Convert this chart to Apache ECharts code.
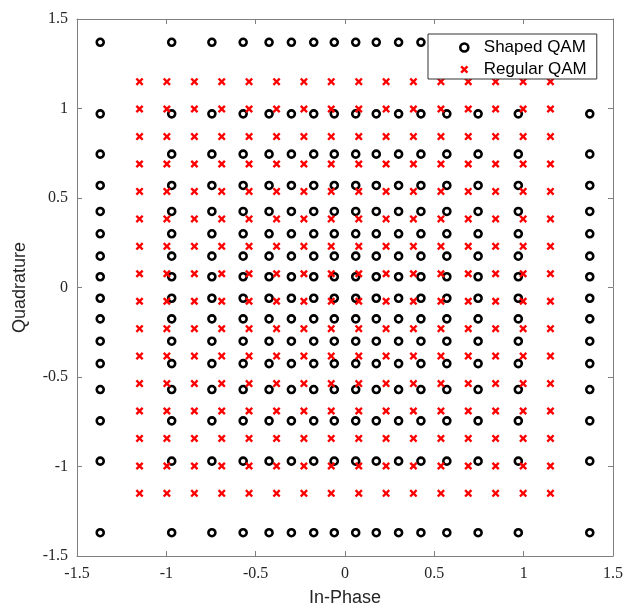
<!DOCTYPE html>
<html>
<head>
<meta charset="utf-8">
<script src="https://cdn.jsdelivr.net/npm/echarts@6/dist/echarts.min.js"></script>
<style>
  html, body { margin: 0; padding: 0; background: #fff; }
  #chart { width: 635px; height: 613px; }
</style>
</head>
<body>
<div id="chart"></div>
<script>
// Amplitude levels per axis (I and Q share the same set)
const shapedLevels = [-1.37, -0.97, -0.745, -0.57, -0.425, -0.30, -0.175, -0.06,
                       0.06, 0.175, 0.30, 0.425, 0.57, 0.745, 0.97, 1.37];
const regularLevels = [-1.15, -0.997, -0.843, -0.69, -0.537, -0.383, -0.23, -0.077,
                        0.077, 0.23, 0.383, 0.537, 0.69, 0.843, 0.997, 1.15];
const axisTicks = [-1.5, -1, -0.5, 0, 0.5, 1, 1.5];
const seriesNames = ['Shaped QAM', 'Regular QAM'];

// Constellation points: every I level paired with every Q level
function grid(levels) {
  const pts = [];
  for (const i of levels) for (const q of levels) pts.push([i, q]);
  return pts;
}

const crossPath = 'path://M0,2.1L2.1,0L5,2.9L7.9,0L10,2.1L7.1,5L10,7.9L7.9,10L5,7.1L2.1,10L0,7.9L2.9,5Z';
const ringStyle = { color: 'rgba(0,0,0,0)', borderColor: '#000', borderWidth: 2.6, opacity: 1 };
const axisColor = '#7f7f7f';
const labelColor = '#262626';
const serif = '"Liberation Serif", "DejaVu Serif", serif';
const sans = '"Liberation Sans", Arial, sans-serif';

const tickMin = axisTicks[0], tickMax = axisTicks[axisTicks.length - 1];

function baseAxis(extra) {
  return Object.assign({
    type: 'value',
    min: tickMin,
    max: tickMax,
    interval: 0.5,
    splitLine: { show: false },
    axisLine: { show: true, onZero: false, lineStyle: { color: axisColor, width: 1 } },
    axisTick: { show: true, inside: true, length: 5, lineStyle: { color: axisColor } },
    axisLabel: { show: true, color: labelColor, fontFamily: serif, fontSize: 16 }
  }, extra);
}

const chart = echarts.init(document.getElementById('chart'), null, { renderer: 'canvas' });
chart.setOption({
  animation: false,
  backgroundColor: '#fff',
  grid: { left: 77, right: 22, top: 19, bottom: 57, outerBoundsMode: 'none', containLabel: false },
  legend: {
    orient: 'vertical',
    left: 428,
    top: 34,
    padding: [5, 10, 1, 31],
    itemWidth: 29,
    itemHeight: 8,
    itemGap: 5,
    backgroundColor: '#fff',
    borderColor: '#333',
    borderWidth: 1,
    borderRadius: 0,
    textStyle: { fontFamily: sans, fontSize: 17, color: '#000' },
    data: [
      { name: seriesNames[0], icon: 'circle', itemStyle: ringStyle },
      { name: seriesNames[1], icon: crossPath,
        itemStyle: { color: '#ff0000', borderWidth: 0 } }
    ]
  },
  xAxis: [
    baseAxis({
      position: 'bottom',
      name: 'In-Phase', nameLocation: 'middle', nameGap: 33,
      nameTextStyle: { fontFamily: sans, fontSize: 18, color: labelColor },
      axisLabel: { show: true, color: labelColor, fontFamily: serif, fontSize: 16, margin: 10 }
    }),
    baseAxis({ position: 'top', axisLabel: { show: false } })
  ],
  yAxis: [
    baseAxis({
      position: 'left',
      name: 'Quadrature', nameLocation: 'middle', nameGap: 48,
      nameTextStyle: { fontFamily: sans, fontSize: 18, color: labelColor },
      axisLabel: { show: true, color: labelColor, fontFamily: serif, fontSize: 16, margin: 9 }
    }),
    baseAxis({ position: 'right', axisLabel: { show: false } })
  ],
  series: [
    {
      name: seriesNames[0],
      type: 'scatter',
      symbol: 'circle',
      symbolSize: 7,
      itemStyle: ringStyle,
      emphasis: { disabled: true },
      data: grid(shapedLevels),
      z: 2
    },
    {
      name: seriesNames[1],
      type: 'scatter',
      symbol: crossPath,
      symbolSize: 8,
      itemStyle: { color: '#ff0000', opacity: 1 },
      emphasis: { disabled: true },
      data: grid(regularLevels),
      z: 3
    }
  ]
});
</script>
</body>
</html>
